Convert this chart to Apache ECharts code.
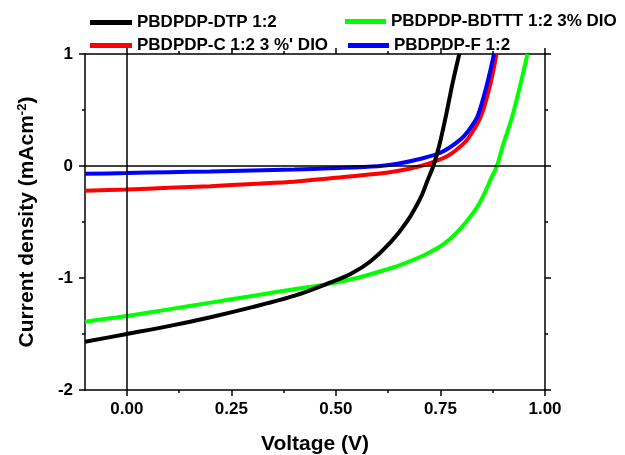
<!DOCTYPE html>
<html>
<head>
<meta charset="utf-8">
<script src="https://cdn.jsdelivr.net/npm/echarts@6/dist/echarts.min.js"></script>
<style>
html, body { margin: 0; padding: 0; background: #fff; }
#chart { width: 625px; height: 455px; }
</style>
</head>
<body>
<div id="chart"></div>
<script>
// data (V in volts, J in mA/cm2)
const dtpV = [-0.1, 0, 0.1, 0.2, 0.3, 0.4, 0.487, 0.535, 0.583, 0.631, 0.671, 0.703, 0.72, 0.733, 0.747, 0.763, 0.779, 0.795]
const dtpJ = [-1.57, -1.50, -1.43, -1.35, -1.26, -1.16, -1.04, -0.965, -0.85, -0.68, -0.49, -0.28, -0.12, 0, 0.18, 0.446, 0.74, 1.0]

const bdtttV = [-0.1, 0, 0.1, 0.2, 0.3, 0.4, 0.487, 0.55, 0.607, 0.65, 0.7, 0.727, 0.76, 0.79, 0.82, 0.839, 0.857, 0.87, 0.885, 0.899, 0.922, 0.942, 0.958]
const bdtttJ = [-1.39, -1.34, -1.28, -1.22, -1.16, -1.10, -1.05, -1.0, -0.94, -0.89, -0.815, -0.765, -0.69, -0.59, -0.46, -0.36, -0.23, -0.12, 0, 0.18, 0.446, 0.74, 1.0]

const cV = [-0.1, 0, 0.1, 0.2, 0.3, 0.4, 0.487, 0.6, 0.647, 0.703, 0.74, 0.767, 0.79, 0.815, 0.847, 0.87, 0.884]
const cJ = [-0.22, -0.21, -0.195, -0.18, -0.16, -0.14, -0.11, -0.07, -0.045, 0.0, 0.045, 0.09, 0.15, 0.24, 0.446, 0.74, 1.0]

const fV = [-0.1, 0, 0.1, 0.2, 0.3, 0.4, 0.487, 0.6, 0.647, 0.703, 0.751, 0.799, 0.82, 0.839, 0.862, 0.878]
const fJ = [-0.07, -0.063, -0.055, -0.048, -0.04, -0.032, -0.02, -0.002, 0.02, 0.065, 0.12, 0.24, 0.33, 0.446, 0.74, 1.0]

const seriesNames = ['PBDPDP-DTP 1:2', 'PBDPDP-BDTTT 1:2 3% DIO', "PBDPDP-C 1:2 3 %' DIO", 'PBDPDP-F 1:2']
const seriesColors = ['#000000', '#00ff00', '#ff0000', '#0000ff']

const xMajorTicks = [0, 0.25, 0.5, 0.75, 1.0]
const xMinorTicks = [0.125, 0.375, 0.625, 0.875]

const font = 'Liberation Sans, Arial, sans-serif'
const chart = echarts.init(document.getElementById('chart'))

function pairs (xs, ys) {
  return xs.map((x, i) => [x, ys[i]])
}

function xAxisDef (pos, values, len, labels) {
  return {
    type: 'value', position: pos, min: -0.1, max: 1.0,
    axisLine: { show: labels, onZero: false, lineStyle: { color: '#000', width: 1.5 } },
    axisTick: { show: true, customValues: values, length: len, lineStyle: { color: '#000', width: 1.5 } },
    axisLabel: { show: labels && pos === 'bottom', customValues: values, formatter: v => v.toFixed(2),
      color: '#000', fontFamily: font, fontWeight: 'bold', fontSize: 17, margin: 11 },
    splitLine: { show: false }
  }
}

function yAxisDef (pos) {
  return {
    type: 'value', position: pos, min: -2, max: 1, interval: 1,
    axisLine: { show: true, onZero: false, lineStyle: { color: '#000', width: 1.5 } },
    axisTick: { show: true, length: 6, lineStyle: { color: '#000', width: 1.5 } },
    minorTick: { show: true, splitNumber: 2, length: 3, lineStyle: { color: '#000', width: 1.5 } },
    axisLabel: { show: pos === 'left', color: '#000', fontFamily: font, fontWeight: 'bold', fontSize: 17, margin: 12 },
    splitLine: { show: false }
  }
}

const xAxes = [
  xAxisDef('bottom', xMajorTicks, 6, true),
  xAxisDef('bottom', xMinorTicks, 3, false),
  xAxisDef('top', xMajorTicks, 6, true),
  xAxisDef('top', xMinorTicks, 3, false)
]
xAxes[0].name = 'Voltage (V)'
xAxes[0].nameLocation = 'middle'
xAxes[0].nameGap = 44
xAxes[0].nameTextStyle = { color: '#000', fontFamily: font, fontWeight: 'bold', fontSize: 21 }

const yAxes = [yAxisDef('left'), yAxisDef('right')]
yAxes[0].name = '{a|Current density (mAcm}{s|-2}{a|)}'
yAxes[0].nameLocation = 'middle'
yAxes[0].nameGap = 47
yAxes[0].nameTextStyle = {
  rich: {
    a: { color: '#000', fontFamily: font, fontWeight: 'bold', fontSize: 21 },
    s: { color: '#000', fontFamily: font, fontWeight: 'bold', fontSize: 13, verticalAlign: 'top', padding: [0, 0, 9, 0] }
  }
}

const dataSets = [pairs(dtpV, dtpJ), pairs(bdtttV, bdtttJ), pairs(cV, cJ), pairs(fV, fJ)]
// draw order: red, blue, green, black on top
const drawOrder = [2, 3, 1, 0]

const series = drawOrder.map(i => ({
  name: seriesNames[i],
  type: 'line',
  data: dataSets[i],
  smooth: 0.3,
  showSymbol: false,
  lineStyle: { color: seriesColors[i], width: 4 },
  itemStyle: { color: seriesColors[i] },
  z: 3
}))

// zero reference lines
series.push({
  type: 'line', data: [], silent: true,
  markLine: {
    silent: true, symbol: 'none', label: { show: false },
    lineStyle: { color: '#000', width: 1.5, type: 'solid' },
    data: [{ xAxis: 0 }, { yAxis: 0 }]
  },
  z: 2
})

const legendPos = [[85, 9], [340, 8], [85, 32], [343, 32]]
const legendIconW = [42, 41, 42, 41]
const legends = seriesNames.map((n, i) => ({
  data: [n],
  left: legendPos[i][0], top: legendPos[i][1],
  icon: 'rect', itemWidth: legendIconW[i], itemHeight: 5,
  textStyle: { color: '#000', fontFamily: font, fontWeight: 'bold', fontSize: 17 },
  selectedMode: false
}))

chart.setOption({
  animation: false,
  backgroundColor: '#fff',
  grid: { left: 85, right: 80, top: 54, bottom: 65, outerBoundsMode: 'none' },
  legend: legends,
  xAxis: xAxes,
  yAxis: yAxes,
  series: series
})
</script>
</body>
</html>
